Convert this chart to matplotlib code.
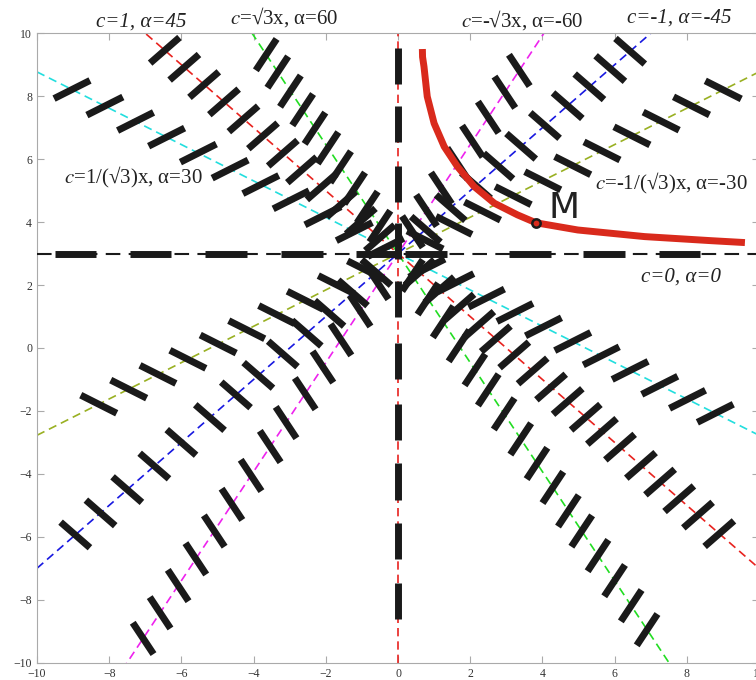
import numpy as np
import matplotlib
matplotlib.use('Agg')
import matplotlib.pyplot as plt

plt.rcParams['font.family'] = ['Liberation Serif', 'DejaVu Serif']
plt.rcParams['mathtext.fontset'] = 'stix'

s3 = np.sqrt(3)

# isoclines y = 3 - c*x, segment centres (x values)
red_c = 1.0
red_x = [-6.46, -5.92, -5.37, -4.82, -4.28, -3.74, -3.19, -2.66, -2.12, -1.57, -1.03, -0.5,
         0.6, 1.15, 1.7, 2.25, 2.71, 3.22, 3.73, 4.24, 4.7, 5.2, 5.65, 6.15, 6.73, 7.26, 7.79, 8.31, 8.9]
green_c = s3
green_x = [-3.65, -3.33, -2.98, -2.64, -2.3, -1.94, -1.59, -1.2, -0.85, -0.5,
           0.4, 0.83, 1.25, 1.69, 2.13, 2.5, 2.94, 3.4, 3.85, 4.29, 4.72, 5.09, 5.54, 6.0, 6.46, 6.9]
cyan_c = 1 / s3
cyan_x = [-9.03, -8.12, -7.27, -6.41, -5.53, -4.65, -3.8, -2.96, -2.08, -1.21, -0.34,
          0.8, 1.6, 2.45, 3.24, 4.03, 4.84, 5.63, 6.43, 7.25, 8.02, 8.79]
blue_c = -1.0
blue_x = [-8.94, -8.24, -7.5, -6.75, -6.0, -5.21, -4.49, -3.87, -3.19, -2.53, -1.9, -1.25, -0.6,
          0.77, 1.46, 2.16, 2.78, 3.41, 4.07, 4.7, 5.3, 5.88, 6.43]
magenta_c = -s3
magenta_x = [-7.06, -6.59, -6.09, -5.6, -5.09, -4.6, -4.07, -3.54, -3.1, -2.57, -2.08, -1.58, -1.05, -0.55,
             0.4, 0.79, 1.2, 1.65, 2.06, 2.5, 2.96, 3.36]
olive_c = -1 / s3
olive_x = [-8.29, -7.46, -6.65, -5.82, -4.98, -4.19, -3.36, -2.57, -1.71, -0.9,
           0.75, 1.55, 2.34, 3.19, 4.01, 4.84, 5.65, 6.48, 7.29, 8.13, 9.01]

# c = 0 on y = 3 (x centres), c = inf on x = 0 (y centres)
hor_x = [-8.93, -6.85, -4.76, -2.66, -0.6, 0.77, 3.66, 5.7, 7.8]
ver_y = [8.96, 7.12, 5.21, 3.4, 1.55, -0.42, -2.34, -4.24, -6.13, -8.04]

# integral curve through M
curve_x = [0.675, 0.68, 0.72, 0.81, 1.0, 1.28, 1.65, 2.11, 2.67, 3.31, 3.82, 4.98, 6.83, 8.68, 9.61]
curve_y = [9.5, 9.25, 8.94, 7.99, 7.14, 6.4, 5.76, 5.13, 4.6, 4.23, 3.98, 3.75, 3.54, 3.41, 3.35]
m_x, m_y = 3.82, 3.98

iso = [
    (red_c, red_x, '#e8231f'),
    (green_c, green_x, '#22dd22'),
    (cyan_c, cyan_x, '#22dede'),
    (blue_c, blue_x, '#1818e0'),
    (magenta_c, magenta_x, '#ee22ee'),
    (olive_c, olive_x, '#99b022'),
]

seg_len = 1.15
seg_kw = dict(color='#1a1a1a', lw=5, solid_capstyle='butt', zorder=4)

fig = plt.figure(figsize=(7.56, 6.8), dpi=100)
ax = fig.add_axes([37 / 756, 1 - 662.7 / 680, (759 - 37) / 756, (662.7 - 33.3) / 680])

xx = np.array([-10, 10])
for c, xs, col in iso:
    ax.plot(xx, 3 - c * xx, color=col, lw=1.2, ls=(0, (5, 3)), zorder=2)
    a = np.arctan(c)
    dx = seg_len / 2 * np.cos(a)
    dy = seg_len / 2 * np.sin(a)
    for x0 in xs:
        y0 = 3 - c * x0
        ax.plot([x0 - dx, x0 + dx], [y0 - dy, y0 + dy], **seg_kw)

# horizontal and vertical isoclines
ax.plot(xx, [3, 3], color='#1a1a1a', lw=1.5, ls=(0, (7, 4)), zorder=3)
ax.plot([0, 0], [-10, 10], color='#e8231f', lw=1.2, ls=(0, (5, 3)), zorder=2)
for x0 in hor_x:
    ax.plot([x0 - seg_len / 2, x0 + seg_len / 2], [3, 3], **seg_kw)
for y0 in ver_y:
    ax.plot([0, 0], [y0 - seg_len / 2, y0 + seg_len / 2], **seg_kw)

# integral curve and point M
ax.plot(curve_x, curve_y, color='#d92a1c', lw=5, solid_capstyle='butt',
        solid_joinstyle='round', zorder=5)
ax.plot(m_x, m_y, 'o', ms=6, mfc='#d92a1c', mec='#1a1a1a', mew=1.8, zorder=6)
ax.text(4.59, 4.45, 'M', fontsize=26, family='DejaVu Sans', color='#222222',
        ha='center', va='center', zorder=6)

# labels
lab_kw = dict(fontsize=15, color='#222222', ha='center', va='center', zorder=6)
ax.text(-7.10, 10.36, 'c=1, α=45', style='italic', **lab_kw)
ax.text(-3.16, 10.52, r'$c$=√3x, α=60', **lab_kw)
ax.text(3.45, 10.42, r'$c$=-√3x, α=-60', **lab_kw)
ax.text(7.79, 10.49, 'c=-1, α=-45', style='italic', **lab_kw)
ax.text(-7.33, 5.43, r'$c$=1/(√3)x, α=30', **lab_kw)
ax.text(7.56, 5.24, r'$c$=-1/(√3)x, α=-30', **lab_kw)
ax.text(7.85, 2.26, 'c=0, α=0', style='italic', **lab_kw)

ax.set_xlim(-10, 10)
ax.set_ylim(-10, 10)
ax.set_xticks(range(-10, 11, 2))
ax.set_yticks(range(-10, 11, 2))
ax.tick_params(direction='in', top=True, right=True, length=5, color='#aaaaaa',
               labelsize=8.5, labelcolor='#333333')
ax.tick_params(axis='x', pad=4)
ax.tick_params(axis='y', pad=3.5)
for sp in ax.spines.values():
    sp.set_color('#aaaaaa')

fig.savefig('out.png', dpi=100)
